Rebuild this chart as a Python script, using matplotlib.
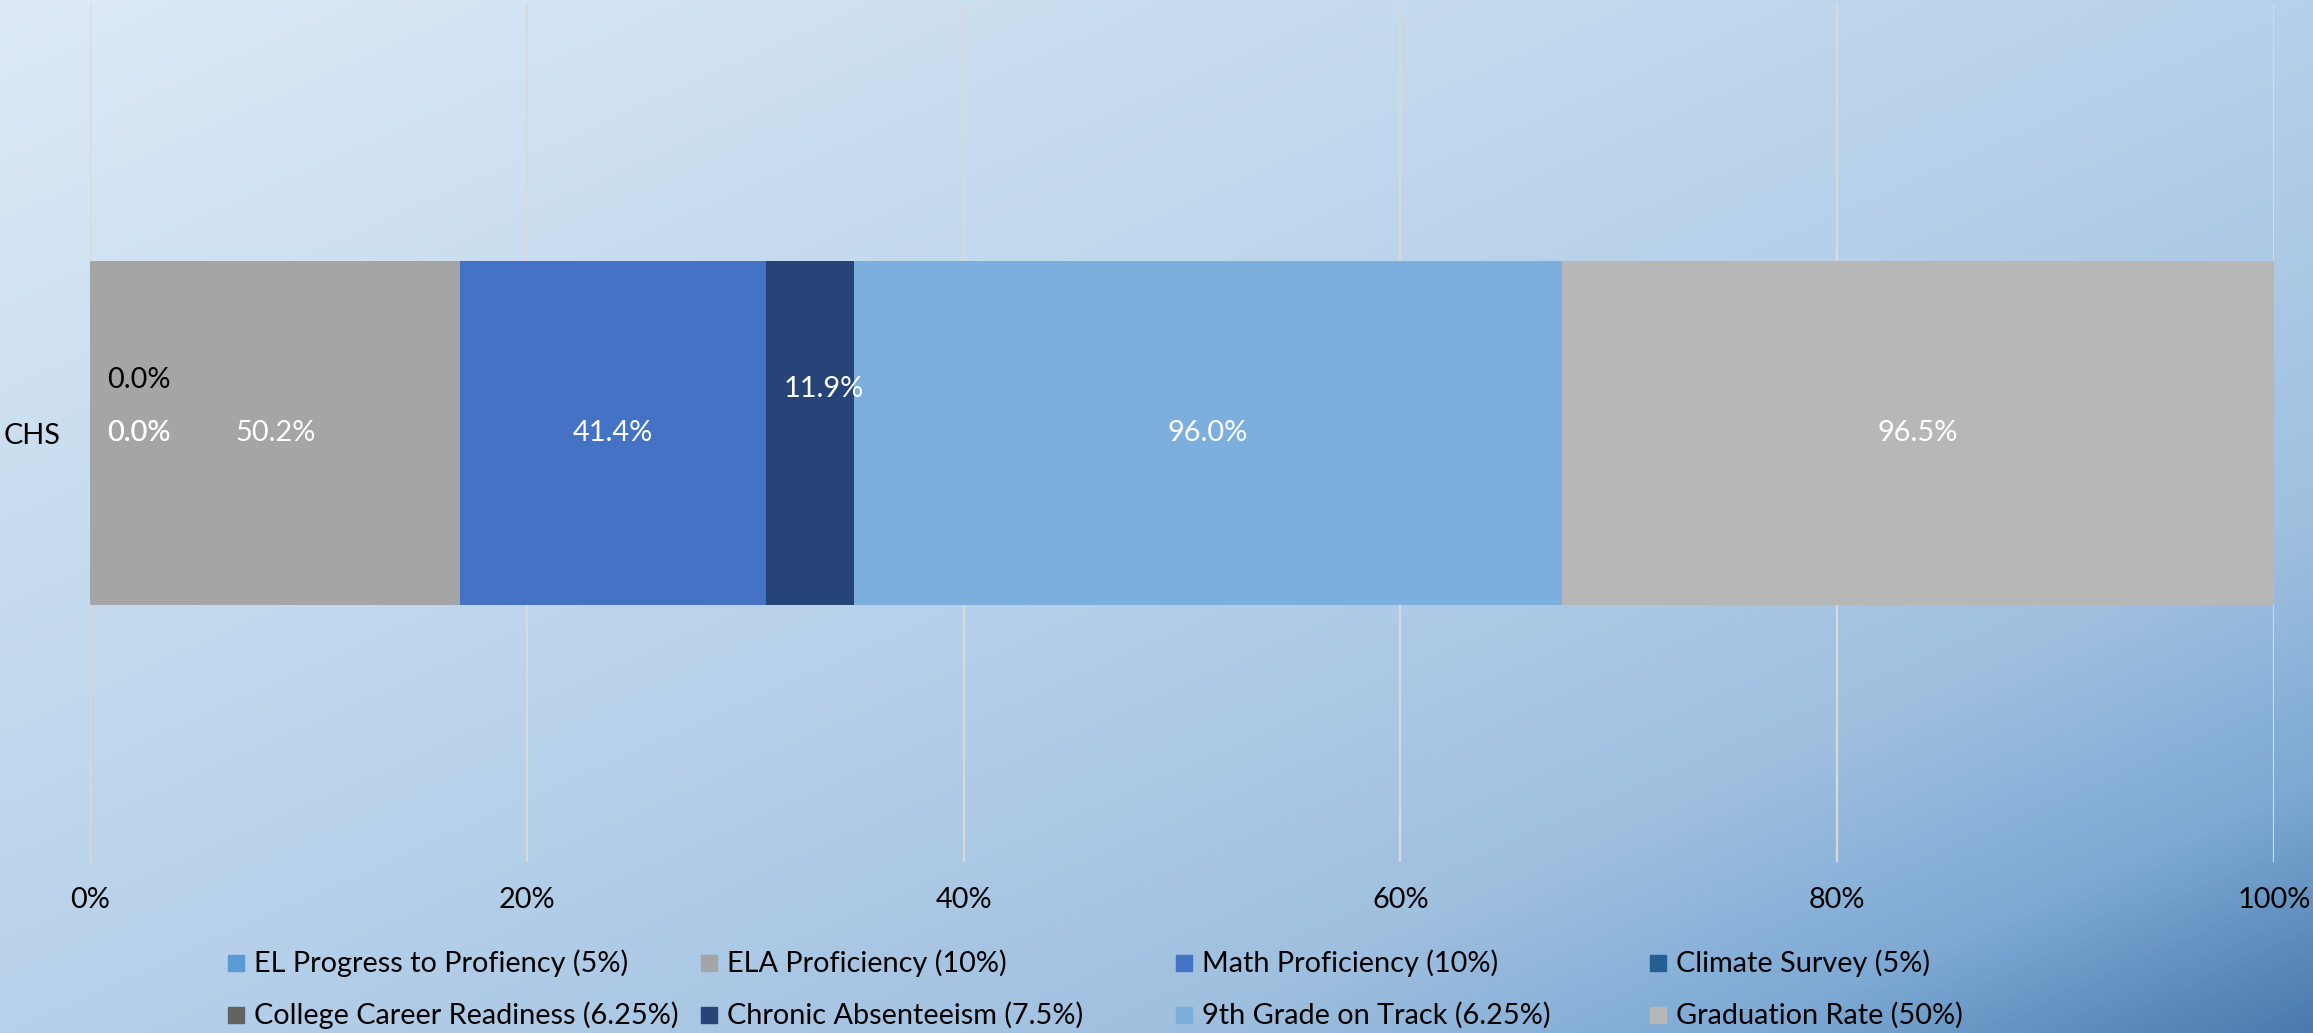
import numpy as np
import matplotlib
matplotlib.use("Agg")
import matplotlib.pyplot as plt
from matplotlib.colors import LinearSegmentedColormap
from matplotlib.patches import Rectangle

plt.rcParams['font.family'] = ['Lato', 'DejaVu Sans']

# --- data ---
category = "CHS"
series = ["EL Progress to Profiency (5%)", "ELA Proficiency (10%)",
          "Math Proficiency (10%)", "Climate Survey (5%)",
          "College Career Readiness (6.25%)", "Chronic Absenteeism (7.5%)",
          "9th Grade on Track (6.25%)", "Graduation Rate (50%)"]
values = [0.0, 50.2, 41.4, 0.0, 0.0, 11.9, 96.0, 96.5]
ticks = [0, 20, 40, 60, 80, 100]

colors = ["#5B9BD5", "#A5A5A5", "#4472C4", "#255E91",
          "#636363", "#264478", "#7CAFDE", "#B7B7B7"]
label_colors = ["white", "white", "white", "white",
                "black", "white", "white", "white"]
# label nudges in pixels (zero-width segments get pushed off the bar start)
label_offsets = [(49, 0), (0, 0), (0, 0), (49, 0),
                 (49, 53), (14, 44), (0, 0), (0, 0)]

FS = 20.8
W, H = 2313, 1033
fig = plt.figure(figsize=(W / 100, H / 100), dpi=100)

# diagonal gradient background
bg = fig.add_axes([0, 0, 1, 1], zorder=-10)
u = np.linspace(0, 1, 600)
v = np.linspace(0, 1, 300)
U, V = np.meshgrid(u, v)
t = (U + V) / 2
cmap = LinearSegmentedColormap.from_list("bg", [
    (0.0, "#DDE9F6"), (0.25, "#C9DDF0"), (0.5, "#B7D1EA"),
    (0.75, "#A0C0E0"), (0.88, "#7DA9D4"), (1.0, "#4B7BAD")])
bg.imshow(t, cmap=cmap, aspect="auto", extent=[0, 1, 0, 1], origin="upper",
          vmin=0, vmax=1)
bg.set_axis_off()

ax = fig.add_axes([90 / W, 1 - 862 / H, (2274 - 90) / W, (862 - 4) / H])
ax.set_facecolor("none")

total = sum(values)
left = 0.0
for name, val, col, lc, off in zip(series, values, colors, label_colors, label_offsets):
    w = val / total * 100
    ax.barh(0, w, left=left, height=0.4, color=col, zorder=3)
    ax.annotate(f"{val:.1f}%", xy=(left + w / 2 if val > 0 else 0, 0),
                xytext=off, textcoords="offset pixels",
                ha="center", va="center", fontsize=FS, color=lc, zorder=5)
    left += w

ax.set_xlim(0, 100)
ax.set_ylim(-0.5, 0.5)
ax.set_xticks(ticks)
ax.set_xticklabels([f"{x}%" for x in ticks])
ax.set_yticks([0])
ax.set_yticklabels([category])
ax.tick_params(axis="x", length=0, pad=18, labelsize=FS)
ax.tick_params(axis="y", length=0, pad=21, labelsize=FS)
ax.grid(axis="x", color="#D9D9D9", linewidth=1.6, zorder=0)
for s in ax.spines.values():
    s.set_visible(False)

# legend, two rows of four, filled row by row
col_x = [228, 701, 1176, 1650]
row_y = [963, 1015]
for i, (name, col) in enumerate(zip(series, colors)):
    x0 = col_x[i % 4]
    y0 = row_y[i // 4]
    fig.patches.append(Rectangle((x0 / W, 1 - (y0 + 8) / H), 16 / W, 16 / H,
                                 transform=fig.transFigure, color=col))
    fig.text((x0 + 26) / W, 1 - y0 / H, name, ha="left", va="center",
             fontsize=FS, color="black")

fig.savefig("out.png", dpi=100)
